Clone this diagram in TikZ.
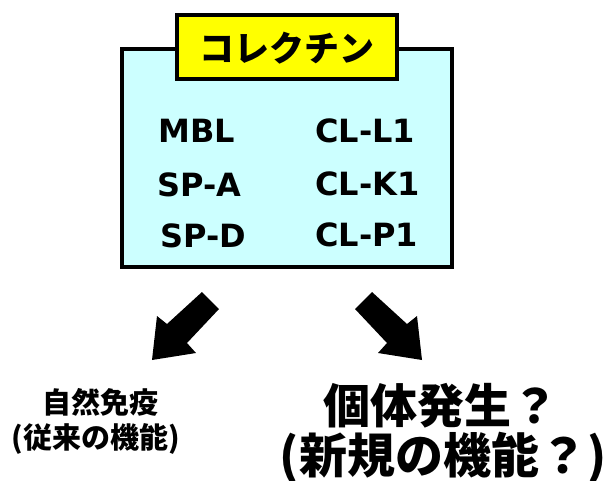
\documentclass[tikz,border=0pt]{standalone}
\usepackage{fontspec}
\setmainfont{DejaVu Sans}
\newfontfamily\jpfont{Noto Sans CJK JP}
\tikzset{
  lat/.style={font=\fontsize{32}{32}\selectfont\bfseries, inner sep=0pt, anchor=base west},
  jp/.style={font=\jpfont\bfseries\fontsize{#1}{#1}\selectfont, inner sep=0pt, anchor=base},
  blockarrow/.style={fill=black, draw=none}
}
\begin{document}
\begin{tikzpicture}[x=1pt,y=-1pt]
\useasboundingbox (0,0) rectangle (609,480);
% main box
\draw[line width=4pt, fill={rgb,255:red,204;green,255;blue,255}] (122,49) rectangle (452,267);
% title box
\draw[line width=4pt, fill={rgb,255:red,255;green,255;blue,0}] (176.5,15) rectangle (396.5,79);
\node[jp=35] (title) at (286.5,61) {コレクチン};
% members
\node[lat] (mbl) at (158,142) {MBL};
\node[lat] (spa) at (157,196) {SP-A};
\node[lat] (spd) at (160,247.5) {SP-D};
\node[lat] (cll) at (315,142) {CL-L1};
\node[lat] (clk) at (315,195) {CL-K1};
\node[lat] (clp) at (315,246) {CL-P1};
% arrows
\fill[blockarrow] (202,292) -- (219,309) -- (187,343) -- (196,353) -- (152,360) -- (157,316) -- (167,324) -- cycle;
\fill[blockarrow] (372,292) -- (355,309) -- (387,343) -- (378,353) -- (422,360) -- (417,316) -- (407,324) -- cycle;
% bottom texts
\node[jp=29] (innate) at (100,413) {自然免疫};
\node[jp=29] (old) at (95.5,448) {(従来の機能)};
\node[jp=47] (dev) at (441,423) {個体発生？};
\node[jp=48] (new) at (443,473) {(新規の機能？)};
\end{tikzpicture}
\end{document}
